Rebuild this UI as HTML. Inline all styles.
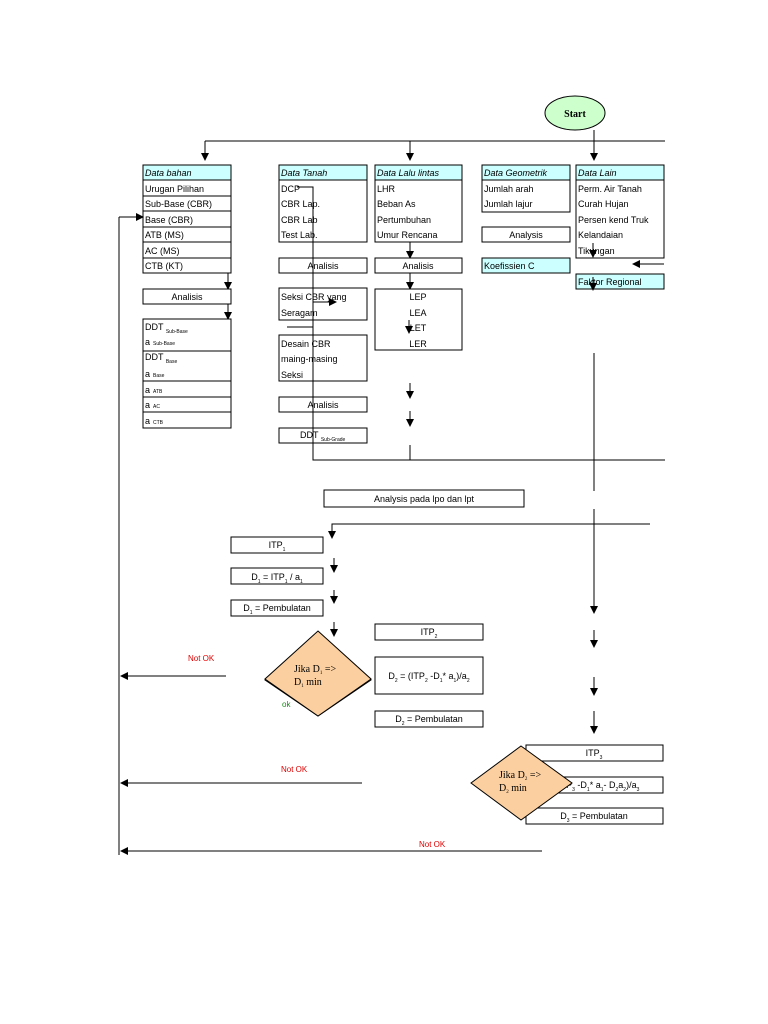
<!DOCTYPE html>
<html><head><meta charset="utf-8"><style>
html,body{margin:0;padding:0;background:#fff}
svg{display:block}
text{font-family:"Liberation Sans",sans-serif;font-size:9px;fill:#000}
.i{font-style:italic}
.b{fill:#fff;stroke:#000;stroke-width:1}
.c{fill:#ccffff;stroke:#000;stroke-width:1}
.l{stroke:#000;stroke-width:1;fill:none}
</style></head><body>
<svg width="768" height="1024" viewBox="0 0 768 1024">
<defs><marker id="a" markerWidth="8" markerHeight="8" refX="7" refY="4" orient="auto" markerUnits="userSpaceOnUse"><path d="M0,0 L8,4 L0,8 z" fill="#000"/></marker></defs>

<ellipse cx="575" cy="113" rx="30" ry="17" fill="#ccffcc" stroke="#000"/>
<text x="575" y="117" text-anchor="middle" style="font-family:'Liberation Serif',serif;font-weight:bold;font-size:10px">Start</text>

<line class="l" x1="205" y1="141" x2="665" y2="141"/>
<line class="l" x1="205" y1="141" x2="205" y2="160" marker-end="url(#a)"/>
<line class="l" x1="410" y1="141" x2="410" y2="160" marker-end="url(#a)"/>
<line class="l" x1="594" y1="130" x2="594" y2="160" marker-end="url(#a)"/>

<!-- Data bahan -->
<rect class="c" x="143" y="165" width="88" height="15"/>
<text class="i" x="145" y="176">Data bahan</text>
<rect class="b" x="143" y="180" width="88" height="93"/>
<g class="l"><line x1="143" y1="196" x2="231" y2="196"/><line x1="143" y1="211" x2="231" y2="211"/><line x1="143" y1="227" x2="231" y2="227"/><line x1="143" y1="242" x2="231" y2="242"/><line x1="143" y1="258" x2="231" y2="258"/></g>
<text x="145" y="192">Urugan Pilihan</text><text x="145" y="207">Sub-Base (CBR)</text><text x="145" y="223">Base (CBR)</text><text x="145" y="238">ATB (MS)</text><text x="145" y="254">AC (MS)</text><text x="145" y="269">CTB (KT)</text>
<line class="l" x1="228" y1="273" x2="228" y2="289" marker-end="url(#a)"/>
<rect class="b" x="143" y="289" width="88" height="15"/><text x="187" y="300" text-anchor="middle">Analisis</text>
<line class="l" x1="228" y1="304" x2="228" y2="319" marker-end="url(#a)"/>
<rect class="b" x="143" y="319" width="88" height="109"/>
<g class="l"><line x1="143" y1="351" x2="231" y2="351"/><line x1="143" y1="381" x2="231" y2="381"/><line x1="143" y1="397" x2="231" y2="397"/><line x1="143" y1="412" x2="231" y2="412"/></g>
<text x="145" y="330">DDT <tspan font-size="5" dy="3">Sub-Base</tspan></text>
<text x="145" y="345" font-size="7">a<tspan font-size="5" dx="3">Sub-Base</tspan></text>
<text x="145" y="360">DDT <tspan font-size="5" dy="3">Base</tspan></text>
<text x="145" y="377" font-size="7">a<tspan font-size="5" dx="3">Base</tspan></text>
<text x="145" y="393" font-size="7">a<tspan font-size="5" dx="3">ATB</tspan></text>
<text x="145" y="408" font-size="7">a<tspan font-size="5" dx="3">AC</tspan></text>
<text x="145" y="424" font-size="7">a<tspan font-size="5" dx="3">CTB</tspan></text>

<!-- Data Tanah -->
<rect class="c" x="279" y="165" width="88" height="15"/><text class="i" x="281" y="176">Data Tanah</text>
<rect class="b" x="279" y="180" width="88" height="62"/>
<text x="281" y="192">DCP</text><text x="281" y="207">CBR Lap.</text><text x="281" y="223">CBR Lab</text><text x="281" y="238">Test  Lab.</text>
<rect class="b" x="279" y="258" width="88" height="15"/><text x="323" y="269" text-anchor="middle">Analisis</text>
<rect class="b" x="279" y="288" width="88" height="32"/><text x="281" y="300">Seksi CBR yang</text><text x="281" y="316">Seragam</text>
<rect class="b" x="279" y="335" width="88" height="46"/><text x="281" y="347">Desain CBR</text><text x="281" y="362">maing-masing</text><text x="281" y="378">Seksi</text>
<rect class="b" x="279" y="397" width="88" height="15"/><text x="323" y="408" text-anchor="middle">Analisis</text>
<rect class="b" x="279" y="428" width="88" height="15"/><text x="300" y="438">DDT <tspan font-size="5" dy="3">Sub-Grade</tspan></text>
<polyline class="l" points="297,187 313,187 313,460 665,460"/>
<line class="l" x1="287" y1="327" x2="313" y2="327"/>
<line class="l" x1="313" y1="302" x2="336" y2="302" marker-end="url(#a)"/>

<!-- Lalu lintas -->
<rect class="c" x="375" y="165" width="87" height="15"/><text class="i" x="377" y="176">Data Lalu lintas</text>
<rect class="b" x="375" y="180" width="87" height="62"/>
<text x="377" y="192">LHR</text><text x="377" y="207">Beban As</text><text x="377" y="223">Pertumbuhan</text><text x="377" y="238">Umur Rencana</text>
<line class="l" x1="410" y1="242" x2="410" y2="258" marker-end="url(#a)"/>
<rect class="b" x="375" y="258" width="87" height="15"/><text x="418" y="269" text-anchor="middle">Analisis</text>
<line class="l" x1="410" y1="273" x2="410" y2="289" marker-end="url(#a)"/>
<rect class="b" x="375" y="289" width="87" height="61"/>
<text x="418" y="300" text-anchor="middle">LEP</text><text x="418" y="316" text-anchor="middle">LEA</text><text x="418" y="331" text-anchor="middle">LET</text><text x="418" y="347" text-anchor="middle">LER</text>
<line class="l" x1="409" y1="320" x2="409" y2="333" marker-end="url(#a)"/>
<line class="l" x1="410" y1="383" x2="410" y2="398" marker-end="url(#a)"/>
<line class="l" x1="410" y1="411" x2="410" y2="426" marker-end="url(#a)"/>
<line class="l" x1="410" y1="445" x2="410" y2="460"/>

<!-- Geometrik -->
<rect class="c" x="482" y="165" width="88" height="15"/><text class="i" x="484" y="176">Data Geometrik</text>
<rect class="b" x="482" y="180" width="88" height="32"/>
<text x="484" y="192">Jumlah arah</text><text x="484" y="207">Jumlah lajur</text>
<rect class="b" x="482" y="227" width="88" height="15"/><text x="526" y="238" text-anchor="middle">Analysis</text>
<rect class="c" x="482" y="258" width="88" height="15"/><text x="484" y="269">Koefissien C</text>

<!-- Data Lain -->
<rect class="c" x="576" y="165" width="88" height="15"/><text class="i" x="578" y="176">Data Lain</text>
<rect class="b" x="576" y="180" width="88" height="78"/>
<text x="578" y="192">Perm. Air Tanah</text><text x="578" y="207">Curah Hujan</text><text x="578" y="223">Persen kend Truk</text><text x="578" y="238">Kelandaian</text><text x="578" y="254">Tikungan</text>
<rect class="c" x="576" y="274" width="88" height="15"/><text x="578" y="285">Faktor Regional</text>
<line class="l" x1="593" y1="243" x2="593" y2="257" marker-end="url(#a)"/>
<line class="l" x1="593" y1="277" x2="593" y2="290" marker-end="url(#a)"/>
<line class="l" x1="664" y1="264" x2="633" y2="264" marker-end="url(#a)"/>

<!-- right vertical -->
<line class="l" x1="594" y1="353" x2="594" y2="491"/>
<line class="l" x1="594" y1="509" x2="594" y2="613" marker-end="url(#a)"/>
<line class="l" x1="594" y1="630" x2="594" y2="647" marker-end="url(#a)"/>
<line class="l" x1="594" y1="677" x2="594" y2="695" marker-end="url(#a)"/>
<line class="l" x1="594" y1="711" x2="594" y2="733" marker-end="url(#a)"/>

<rect class="b" x="324" y="490" width="200" height="17"/>
<text x="424" y="502" text-anchor="middle" font-size="8">Analysis pada lpo dan lpt</text>
<polyline class="l" points="650,524 332,524 332,538" marker-end="url(#a)"/>

<rect class="b" x="231" y="537" width="92" height="16"/><text x="277" y="548" text-anchor="middle">ITP<tspan font-size="5" dy="3">1</tspan></text>
<rect class="b" x="231" y="568" width="92" height="16"/><text x="277" y="580" text-anchor="middle">D<tspan font-size="5" dy="3">1</tspan><tspan dy="-3"> = ITP</tspan><tspan font-size="5" dy="3">1</tspan><tspan dy="-3"> / a</tspan><tspan font-size="5" dy="3">1</tspan></text>
<rect class="b" x="231" y="600" width="92" height="16"/><text x="277" y="611" text-anchor="middle">D<tspan font-size="5" dy="3">1</tspan><tspan dy="-3"> = Pembulatan</tspan></text>
<line class="l" x1="334" y1="558" x2="334" y2="572" marker-end="url(#a)"/>
<line class="l" x1="334" y1="590" x2="334" y2="603" marker-end="url(#a)"/>
<line class="l" x1="334" y1="622" x2="334" y2="636" marker-end="url(#a)"/>

<polygon points="318,632 371,680 318,716 265,680" fill="#fbcf9f" stroke="#000"/>
<polygon points="318,631 371,679 318,716 265,679" fill="#fbcf9f" stroke="#000"/>
<text x="294" y="672" style="font-family:'Liberation Serif',serif;font-size:10px">Jika D<tspan font-size="5" dy="2">1</tspan><tspan dy="-2"> =&gt;</tspan></text>
<text x="294" y="685" style="font-family:'Liberation Serif',serif;font-size:10px">D<tspan font-size="5" dy="2">1</tspan><tspan dy="-2"> min</tspan></text>
<text x="282" y="707" style="fill:#1a8a1a;font-size:8px">ok</text>

<text x="188" y="661" style="fill:#e00000;font-size:8px">Not OK</text>
<line class="l" x1="226" y1="676" x2="121" y2="676" marker-end="url(#a)"/>

<rect class="b" x="375" y="624" width="108" height="16"/><text x="429" y="635" text-anchor="middle">ITP<tspan font-size="5" dy="3">2</tspan></text>
<rect class="b" x="375" y="657" width="108" height="37"/><text x="429" y="679" text-anchor="middle" font-size="8">D<tspan font-size="5" dy="3">2</tspan><tspan dy="-3"> = (ITP</tspan><tspan font-size="5" dy="3">2</tspan><tspan dy="-3"> -D</tspan><tspan font-size="5" dy="3">1</tspan><tspan dy="-3">* a</tspan><tspan font-size="5" dy="3">1</tspan><tspan dy="-3">)/a</tspan><tspan font-size="5" dy="3">2</tspan></text>
<rect class="b" x="375" y="711" width="108" height="16"/><text x="429" y="722" text-anchor="middle">D<tspan font-size="5" dy="3">2</tspan><tspan dy="-3"> = Pembulatan</tspan></text>

<text x="281" y="772" style="fill:#e00000;font-size:8px">Not OK</text>
<line class="l" x1="362" y1="783" x2="121" y2="783" marker-end="url(#a)"/>

<rect class="b" x="526" y="745" width="137" height="16"/><text x="594" y="756" text-anchor="middle">ITP<tspan font-size="5" dy="3">3</tspan></text>
<rect class="b" x="526" y="777" width="137" height="16"/><text x="600" y="788" text-anchor="middle" font-size="8">TP<tspan font-size="5" dy="3">3</tspan><tspan dy="-3"> -D</tspan><tspan font-size="5" dy="3">1</tspan><tspan dy="-3">* a</tspan><tspan font-size="5" dy="3">1</tspan><tspan dy="-3">- D</tspan><tspan font-size="5" dy="3">2</tspan><tspan dy="-3">a</tspan><tspan font-size="5" dy="3">2</tspan><tspan dy="-3">)/a</tspan><tspan font-size="5" dy="3">3</tspan></text>
<rect class="b" x="526" y="808" width="137" height="16"/><text x="594" y="819" text-anchor="middle">D<tspan font-size="5" dy="3">3</tspan><tspan dy="-3"> = Pembulatan</tspan></text>

<polygon points="521,746 572,783 521,820 471,783" fill="#fbcf9f" stroke="#000"/>
<text x="499" y="778" style="font-family:'Liberation Serif',serif;font-size:10px">Jika D<tspan font-size="5" dy="2">2</tspan><tspan dy="-2"> =&gt;</tspan></text>
<text x="499" y="791" style="font-family:'Liberation Serif',serif;font-size:10px">D<tspan font-size="5" dy="2">2</tspan><tspan dy="-2"> min</tspan></text>

<text x="419" y="847" style="fill:#e00000;font-size:8px">Not OK</text>
<line class="l" x1="542" y1="851" x2="121" y2="851" marker-end="url(#a)"/>

<line class="l" x1="119" y1="855" x2="119" y2="217"/>
<line class="l" x1="119" y1="217" x2="143" y2="217" marker-end="url(#a)"/>
</svg>
</body></html>
